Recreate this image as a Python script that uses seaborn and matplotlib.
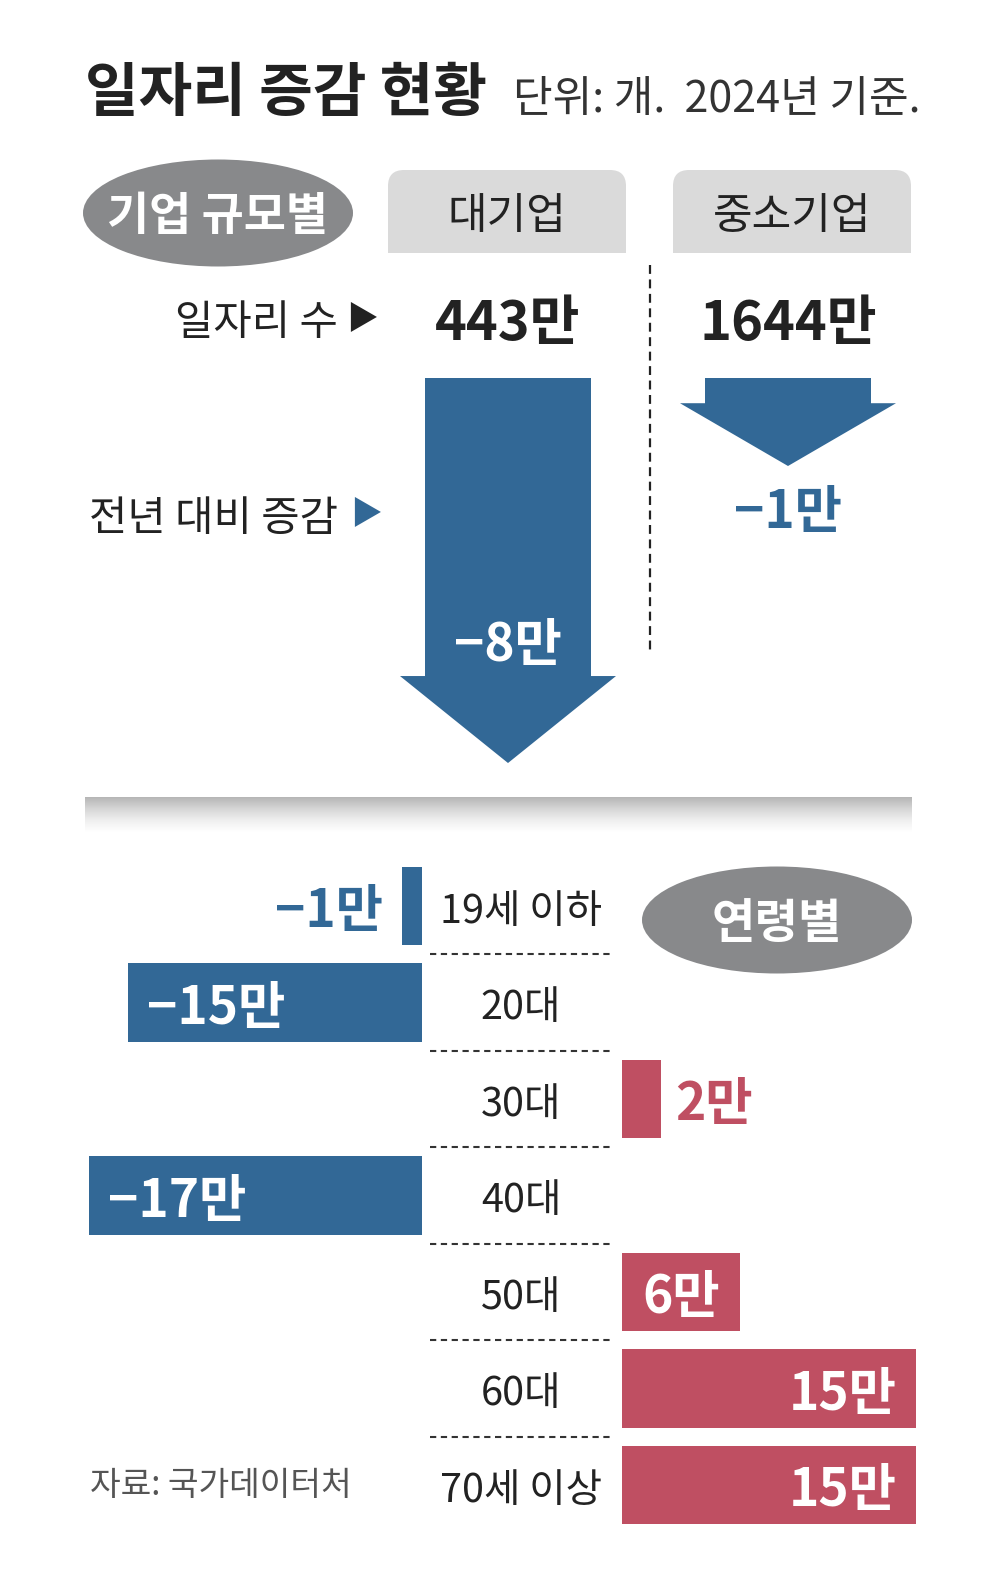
import numpy as np
import pandas as pd
import matplotlib
matplotlib.use('Agg')
import matplotlib.pyplot as plt
import matplotlib.transforms as mtransforms
from matplotlib.patches import Ellipse, FancyBboxPatch, Rectangle
from matplotlib.colors import LinearSegmentedColormap
import seaborn as sns

# ---------------- data ----------------
title = '일자리 증감 현황'
unit_note = '단위: 개.  2024년 기준.'
size_title = '기업 규모별'
size_groups = ['대기업', '중소기업']
size_jobs = [443, 1644]        # 만 개
size_change = [-8, -1]         # 만 개, 전년 대비
age_title = '연령별'
age_groups = ['19세 이하', '20대', '30대', '40대', '50대', '60대', '70세 이상']
age_change = [-1, -15, 2, -17, 6, 15, 15]   # 만 개
source = '자료: 국가데이터처'

# ---------------- style ----------------
sns.set_theme(style='white')
plt.rcParams['font.family'] = ['Noto Sans CJK KR', 'DejaVu Sans']
plt.rcParams['axes.unicode_minus'] = True

W, H = 1004, 1577
BLUE = '#326896'
RED = '#bf4f62'
GREY_E = '#88898b'
GREY_B = '#dadada'
INK = '#222222'
DY = 6          # visual centring correction for text (pixels)
DY_PT = -4.3    # same, in points


def fmt(v):
    return ('\u2212' if v < 0 else '') + f'{abs(v)}만'


fig = plt.figure(figsize=(W / 100, H / 100), dpi=100)
fig.patch.set_facecolor('white')


def px_axes(x0, y0, x1, y1, z=1):
    ax = fig.add_axes([x0 / W, 1 - y1 / H, (x1 - x0) / W, (y1 - y0) / H], zorder=z)
    ax.patch.set_alpha(0)
    return ax


bg = px_axes(0, 0, W, H, z=0)
bg.set_xlim(0, W)
bg.set_ylim(H, 0)
bg.set_axis_off()

# ---------------- header ----------------
bg.text(85, 88 + DY, title, fontsize=42, fontweight='bold', color=INK, ha='left', va='center')
bg.text(513, 94 + DY, unit_note, fontsize=31, color='#333333', ha='left', va='center')

bg.add_patch(Ellipse((218, 213), 270, 107, color=GREY_E, lw=0))
bg.text(218, 211 + DY, size_title, color='white', fontsize=33, fontweight='bold',
        ha='center', va='center')

head_cx = [507, 792]
for cx, name in zip(head_cx, size_groups):
    bg.add_patch(FancyBboxPatch((cx - 119, 170), 238, 83,
                                boxstyle='round,pad=0,rounding_size=16',
                                color=GREY_B, lw=0))
    bg.add_patch(Rectangle((cx - 119, 215), 238, 38, color=GREY_B, lw=0))
    bg.text(cx, 211 + DY, name, fontsize=31, color=INK, ha='center', va='center')

bg.text(338, 318 + DY, '일자리 수', fontsize=30, color=INK, ha='right', va='center')
bg.text(362, 318 + 2, '\u25B6', fontsize=23, color=INK, ha='center', va='center')
bg.text(338, 513 + DY, '전년 대비 증감', fontsize=30, color=INK, ha='right', va='center')
bg.text(366, 513 + 2, '\u25B6', fontsize=23, color=BLUE, ha='center', va='center')

# dashed divider between company sizes
bg.plot([650, 650], [265, 652], color=INK, lw=1.6, dashes=(4, 2.5))

# ---------------- company-size arrows ----------------
cat_px = [508, 788]
sp_top = cat_px[1] - cat_px[0]
ax_top = px_axes(cat_px[0] - sp_top / 2, 370, cat_px[1] + sp_top / 2, 780, z=2)
ax_top.set_xlim(-0.5, 1.5)
ax_top.set_ylim(-8.4003, 1.2626)
ax_top.set_axis_off()

arrow_base = 1.074
body_hw = 83.0 / sp_top
head_hw = 108.0 / sp_top
head_len = [2.05, 1.48]

blend_top = mtransforms.blended_transform_factory(ax_top.transData, bg.transData)
for i, (jobs, v) in enumerate(zip(size_jobs, size_change)):
    hl = head_len[i]
    xs = [i - body_hw, i + body_hw, i + body_hw, i + head_hw, i, i - head_hw, i - body_hw]
    ys = [arrow_base, arrow_base, v + hl, v + hl, v, v + hl, v + hl]
    ax_top.fill(xs, ys, color=BLUE, lw=0)
    if abs(v) >= 3:
        ax_top.annotate(fmt(v), xy=(i, v + hl + 0.85), xytext=(0, DY_PT),
                        textcoords='offset points', color='white', fontsize=37,
                        fontweight='bold', ha='center', va='center')
    else:
        ax_top.annotate(fmt(v), xy=(i, v - 0.95), xytext=(0, DY_PT),
                        textcoords='offset points', color=BLUE, fontsize=37,
                        fontweight='bold', ha='center', va='center')
    ax_top.text(i, 318 + DY, f'{jobs}만', transform=blend_top, fontsize=39,
                fontweight='bold', color=INK, ha='center', va='center')

# gradient separator
grad = np.linspace(0, 1, 64).reshape(-1, 1)
cmap = LinearSegmentedColormap.from_list('sep', ['#b6b6b6', '#d6d6d6', '#efefef', '#ffffff'])
bg.imshow(grad, extent=[85, 912, 832, 797], cmap=cmap, aspect='auto',
          interpolation='bilinear', zorder=1)
bg.set_xlim(0, W)
bg.set_ylim(H, 0)

# ---------------- age bars ----------------
row0, row_sp = 906, 96.5
px_per = 19.6
y_top = row0 - 0.5 * row_sp
y_bot = row0 + 6.5 * row_sp

df = pd.DataFrame({'age': age_groups, 'change': age_change})
df['sign'] = np.where(df['change'] < 0, '감소', '증가')
pal = {'감소': BLUE, '증가': RED}

ax_l = px_axes(0, y_top, 422, y_bot, z=2)
ax_r = px_axes(622, y_top, W, y_bot, z=2)
for ax, lim in [(ax_l, (-422 / px_per, 0)), (ax_r, (0, (W - 622) / px_per))]:
    sns.barplot(data=df, y='age', x='change', hue='sign', palette=pal, order=age_groups,
                orient='h', width=0.81, dodge=False, legend=False, errorbar=None,
                saturation=1, linewidth=0, ax=ax)
    ax.set_xlim(*lim)
    ax.set_ylim(6.5, -0.5)
    ax.set_axis_off()

for i, v in enumerate(age_change):
    ax = ax_l if v < 0 else ax_r
    inside = abs(v) >= 4
    if v < 0:
        ha, dx = ('left', 14) if inside else ('right', -14)
    else:
        ha, dx = ('right', -14) if inside else ('left', 10)
    ax.annotate(fmt(v), xy=(v, i), xytext=(dx, DY_PT), textcoords='offset points',
                ha=ha, va='center', fontsize=37, fontweight='bold',
                color='white' if inside else (BLUE if v < 0 else RED),
                annotation_clip=False)

blend_mid = mtransforms.blended_transform_factory(bg.transData, ax_l.transData)
for i, name in enumerate(age_groups):
    ax_l.annotate(name, xy=(521, i), xycoords=blend_mid, xytext=(0, DY_PT),
                  textcoords='offset points', fontsize=28.5, color=INK,
                  ha='center', va='center', annotation_clip=False)
    if i < len(age_groups) - 1:
        ax_l.plot([430, 612], [i + 0.5, i + 0.5], transform=blend_mid, color='#333333',
                  lw=1.5, dashes=(3, 2.2), clip_on=False)

bg.add_patch(Ellipse((777, 920), 270, 107, color=GREY_E, lw=0, zorder=3))
bg.text(777, 918 + DY, age_title, color='white', fontsize=34, fontweight='bold',
        ha='center', va='center', zorder=4)

bg.text(90, 1479 + DY, source, fontsize=24, color='#555555', ha='left', va='center')

fig.savefig('out.png', dpi=100, facecolor='white')
